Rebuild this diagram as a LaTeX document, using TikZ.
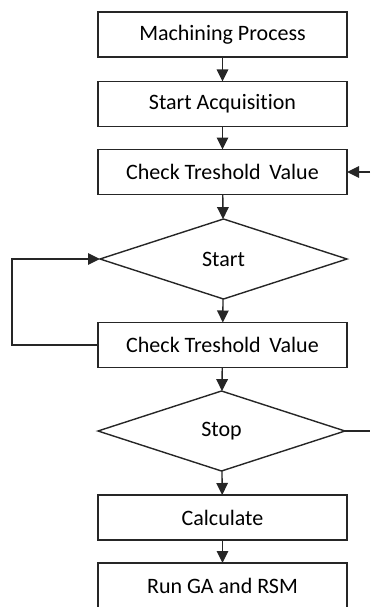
\documentclass[tikz,border=0pt]{standalone}
\usepackage{fontspec}
\setmainfont{Carlito}[Ligatures={NoCommon}]
\usetikzlibrary{shapes.geometric,arrows.meta}
\begin{document}
\begin{tikzpicture}[x=1pt,y=-1pt,
  line width=1.4pt,
  every node/.style={font=\fontsize{22}{26}\selectfont, text=black, outer sep=0pt, inner sep=0pt},
  stepbox/.style={draw=black!85, rectangle, minimum width=249pt, minimum height=45pt},
  decision/.style={draw=black!85, diamond, aspect=3, minimum width=247pt, minimum height=80pt},
  flow/.style={draw=black!85, -{Triangle[length=12pt,width=11.5pt]}},
  plain/.style={draw=black!85}]
  \clip (0,0) rectangle (370,607);
  \useasboundingbox (0,0) rectangle (370,607);

  \node[stepbox] (mp)   at (222.5,34.5)  {Machining Process};
  \node[stepbox] (sa)   at (222.5,104)   {Start Acquisition};
  \node[stepbox] (ct1)  at (222.5,172)   {Check Treshold\ \,Value};
  \node[decision] (st)  at (223.5,259)   {Start};
  \node[stepbox] (ct2)  at (222.5,345)   {Check Treshold\ \,Value};
  \node[decision] (sp)  at (221.5,431)   {Stop};
  \node[stepbox] (calc) at (222.5,517.5) {Calculate};
  \node[stepbox, minimum height=60pt, anchor=north] (run) at (222.5,563) {};
  \node at (222.5,585.5) {Run GA and RSM};

  \coordinate (inR)  at (370,172);
  \coordinate (outR) at (370,431);
  \coordinate (loopB) at (12,345);
  \coordinate (loopT) at (12,259);

  \draw[flow] (mp) -- (sa);
  \draw[flow] (sa) -- (ct1);
  \draw[flow] (ct1) -- (st);
  \draw[flow] (st) -- (ct2);
  \draw[flow] (ct2) -- (sp);
  \draw[flow] (sp) -- (calc);
  \draw[flow] (calc) -- (run);
  \draw[flow] (inR) -- (ct1.east);
  \draw[plain] (sp.east) -- (outR);
  \draw[flow] (ct2.west) -- (loopB) -- (loopT) -- (st.west);
\end{tikzpicture}
\end{document}
